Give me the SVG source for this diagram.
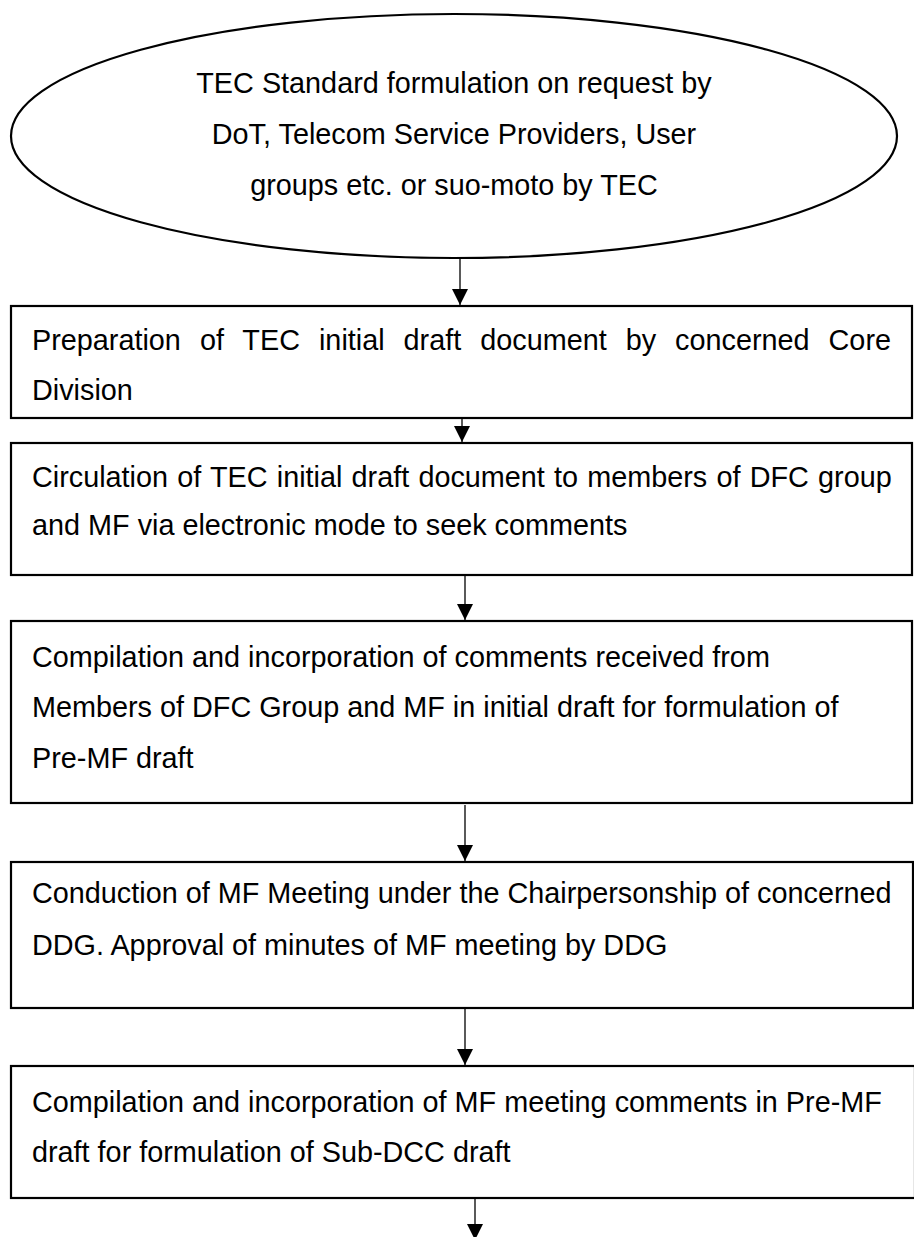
<svg xmlns="http://www.w3.org/2000/svg" width="914" height="1237" viewBox="0 0 914 1237">
<style>
  .shape { fill: #ffffff; stroke: #000000; stroke-width: 2.2; }
  .t { font-family: "Liberation Sans", Arial, sans-serif; font-size: 28.8px; fill: #000000; }
  .c { text-anchor: middle; }
  .conn { stroke: #000000; stroke-width: 1.3; fill: none; marker-end: url(#ah); }
</style>
<defs>
  <marker id="ah" markerUnits="userSpaceOnUse" markerWidth="16" markerHeight="16" refX="15" refY="7.5" orient="auto" viewBox="0 0 15 15">
    <path d="M0,0 L15,7.5 L0,15 z" fill="#000000"/>
  </marker>
</defs>
<rect width="914" height="1237" fill="#ffffff"/>

<g id="n0">
  <ellipse class="shape" cx="454" cy="136" rx="443" ry="122"/>
  <text class="t c" x="454" y="93">TEC Standard formulation on request by</text>
  <text class="t c" x="454" y="144">DoT, Telecom Service Providers, User</text>
  <text class="t c" x="454" y="195">groups etc. or suo-moto by TEC</text>
</g>

<g id="n1">
  <rect class="shape" x="11" y="306" width="901" height="112"/>
  <text class="t" x="32" y="350" word-spacing="11">Preparation of TEC initial draft document by concerned Core</text>
  <text class="t" x="32" y="400">Division</text>
</g>

<g id="n2">
  <rect class="shape" x="11" y="443" width="901" height="132"/>
  <text class="t" x="32" y="487" word-spacing="1.2">Circulation of TEC initial draft document to members of DFC group</text>
  <text class="t" x="32" y="535">and MF via electronic mode to seek comments</text>
</g>

<g id="n3">
  <rect class="shape" x="11" y="621" width="901" height="182"/>
  <text class="t" x="32" y="667">Compilation and incorporation of comments received from</text>
  <text class="t" x="32" y="717">Members of DFC Group and MF in initial draft for formulation of</text>
  <text class="t" x="32" y="768">Pre-MF draft</text>
</g>

<g id="n4">
  <rect class="shape" x="11" y="862" width="902" height="146"/>
  <text class="t" x="32" y="903">Conduction of MF Meeting under the Chairpersonship of concerned</text>
  <text class="t" x="32" y="955">DDG. Approval of minutes of MF meeting by DDG</text>
</g>

<g id="n5">
  <rect class="shape" x="11" y="1066" width="904" height="132"/>
  <text class="t" x="32" y="1112">Compilation and incorporation of MF meeting comments in Pre-MF</text>
  <text class="t" x="32" y="1162">draft for formulation of Sub-DCC draft</text>
</g>

<g id="connectors">
  <line class="conn" x1="460" y1="259" x2="460" y2="305"/>
  <line class="conn" x1="462" y1="419" x2="462" y2="442"/>
  <line class="conn" x1="465" y1="576" x2="465" y2="620"/>
  <line class="conn" x1="465" y1="805" x2="465" y2="861"/>
  <line class="conn" x1="465" y1="1009" x2="465" y2="1065"/>
  <line class="conn" x1="475" y1="1199" x2="475" y2="1240"/>
</g>
</svg>
